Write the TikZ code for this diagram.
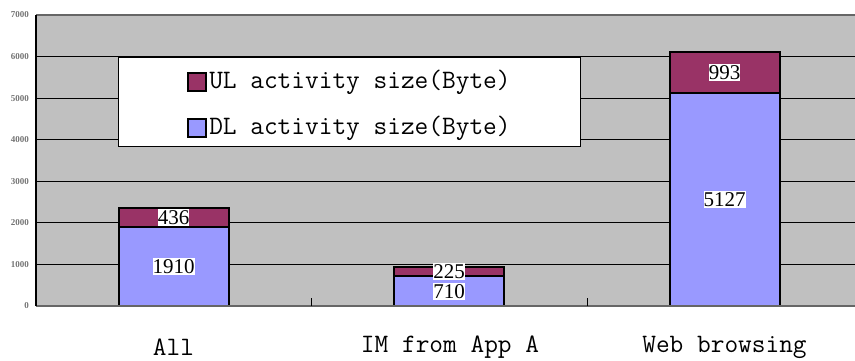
\documentclass[tikz,border=0pt]{standalone}
\usepackage{fontspec}
\usepackage{tikz}
\newfontfamily\numfont{Liberation Serif}
\definecolor{ulred}{HTML}{993366}
\definecolor{dlblue}{HTML}{9999FF}
\definecolor{plotgray}{HTML}{C0C0C0}
\tikzset{
  gridline/.style={black,line width=0.8pt},
  barline/.style={draw=black,line width=2pt},
  vallabel/.style={fill=white,inner xsep=0pt,inner ysep=1.5pt,
    font=\numfont\fontsize{21}{21}\selectfont},
  ticklabel/.style={text=black!55,inner sep=0pt,
    font=\numfont\bfseries\fontsize{9}{9}\selectfont},
  catlabel/.style={font=\ttfamily\fontsize{26.6}{26.6}\selectfont},
  swatch/.style={draw=black,line width=1.6pt,minimum size=18.5pt,inner sep=0pt},
}

\begin{document}
\begin{tikzpicture}[x=1pt,y=1pt]
  \useasboundingbox (0,0) rectangle (855,360);
  \fill[plotgray] (36,54) rectangle (855,345);
  \begin{scope}[shift={(0,54)},y=0.041571pt]
    % grid and tick labels
    \foreach \v in {1000,2000,...,6000}
      \draw[gridline] (36,\v) -- (855,\v);
    \foreach \v in {0,1000,...,7000}
      \node[ticklabel,anchor=east] (tick-\v) at (29,\v) {\v};
    % stacked bars
    \foreach \cx/\dl/\ul/\nm in {173.5/1910/436/all,449/710/225/im,724.5/5127/993/web}{
      \pgfmathsetmacro\tot{\dl+\ul}
      \fill[dlblue] (\cx-55,0) rectangle (\cx+55,\dl);
      \fill[ulred] (\cx-55,\dl) rectangle (\cx+55,\tot);
      \draw[barline] (\cx-55,0) rectangle (\cx+55,\tot);
      \draw[barline] (\cx-55,\dl) -- (\cx+55,\dl);
      \node[vallabel] (dl-\nm) at (\cx,\dl/2) {\dl};
      \node[vallabel] (ul-\nm) at (\cx,\dl+\ul/2) {\ul};
    }
    % axes
    \draw[black!60,line width=1.5pt] (36,7000) -- (855,7000);
    \draw[black!60,line width=1.5pt] (36,0) -- (855,0);
    \draw[black,line width=1.5pt] (36,0) -- (36,7000);
  \end{scope}
  \draw[black,line width=0.8pt] (311.5,54) -- (311.5,62);
  \draw[black,line width=0.8pt] (587.4,54) -- (587.4,62);

  % categories
  \node[catlabel] (cat-all) at (173.5,13) {All};
  \node[catlabel] (cat-im) at (450,13) {IM from App A};
  \node[catlabel] (cat-web) at (724.5,13) {Web browsing};

  % legend
  \node[draw=black,fill=white,line width=0.8pt,minimum width=462pt,
    minimum height=89pt,anchor=south west,inner sep=0pt] (legend) at (118,213) {};
  \node[swatch,fill=ulred] (sw-ul) at (197,278) {};
  \node[catlabel,anchor=west,inner xsep=2pt] (lg-ul) at (sw-ul.east) {UL activity size(Byte)};
  \node[swatch,fill=dlblue] (sw-dl) at (197,232) {};
  \node[catlabel,anchor=west,inner xsep=2pt] (lg-dl) at (sw-dl.east) {DL activity size(Byte)};
\end{tikzpicture}
\end{document}
